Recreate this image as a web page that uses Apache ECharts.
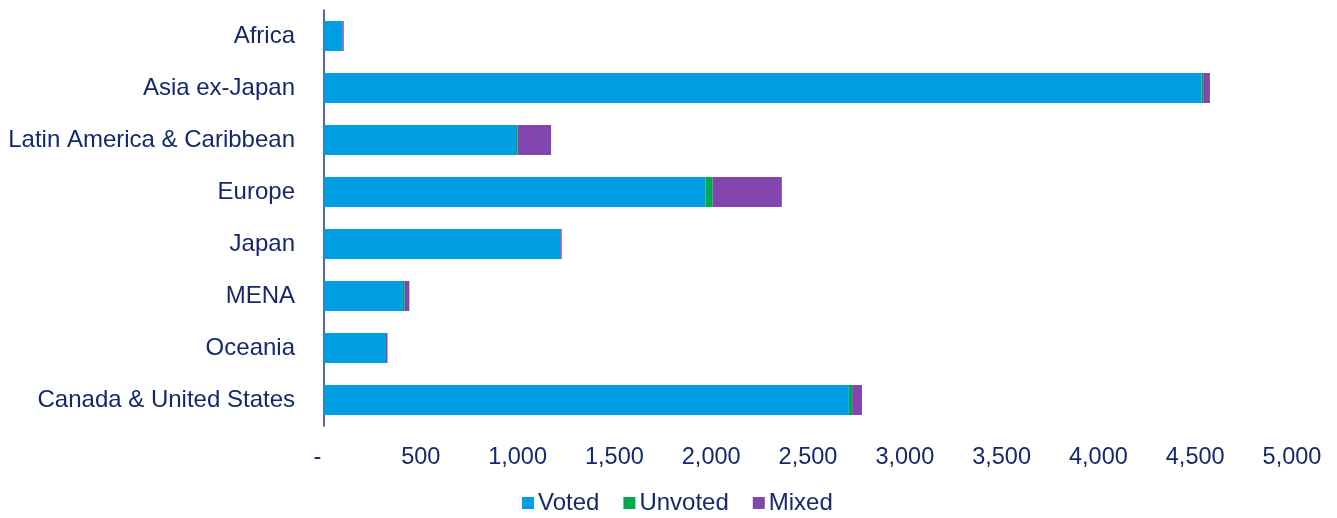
<!DOCTYPE html>
<html>
<head>
<meta charset="utf-8">
<script src="https://cdn.jsdelivr.net/npm/echarts@6/dist/echarts.min.js"></script>
<style>
  html, body { margin: 0; padding: 0; background: #ffffff; }
  #chart { width: 1337px; height: 518px; }
</style>
</head>
<body>
<div id="chart"></div>
<script>
// Regions, listed top to bottom
const regions = ['Africa', 'Asia ex-Japan', 'Latin America & Caribbean', 'Europe', 'Japan', 'MENA', 'Oceania', 'Canada & United States'];
const voted   = [95, 4532, 992, 1971, 1220, 408, 320, 2711];
const unvoted = [0, 9, 8, 36, 0, 9, 0, 17];
const mixed   = [7, 35, 173, 358, 8, 24, 8, 51];
const seriesNames = ['Voted', 'Unvoted', 'Mixed'];

const navy = '#14296b';
const font = '"Liberation Sans", Arial, sans-serif';

const chart = echarts.init(document.getElementById('chart'), null, { renderer: 'canvas' });

function bar(name, data, color) {
  return {
    name: name,
    type: 'bar',
    stack: 'total',
    data: data,
    barWidth: 30,
    itemStyle: { color: color },
    emphasis: { disabled: true },
    animation: false
  };
}

chart.setOption({
  animation: false,
  textStyle: { fontFamily: font },
  grid: { left: 324, right: 45, top: 10, bottom: 92, containLabel: false },
  legend: {
    data: seriesNames,
    left: 517,
    top: 486,
    icon: 'rect',
    itemWidth: 12,
    itemHeight: 12,
    itemGap: 24,
    textStyle: { color: navy, fontSize: 24, fontFamily: font, padding: [0, 0, 0, -1] }
  },
  xAxis: {
    type: 'value',
    min: 0,
    max: 5000,
    interval: 500,
    axisLine: { show: false },
    axisTick: { show: false },
    splitLine: { show: false },
    axisLabel: {
      color: navy,
      fontSize: 23.5,
      fontFamily: font,
      margin: 20,
      formatter: function (v) {
        return v === 0 ? '-  ' : v.toLocaleString('en-US');
      }
    }
  },
  yAxis: {
    type: 'category',
    inverse: true,
    data: regions,
    axisLine: { show: true, lineStyle: { color: '#1a3585', width: 1.5 } },
    axisTick: { show: false },
    splitLine: { show: false },
    axisLabel: { color: navy, fontSize: 24, fontFamily: font, margin: 29, padding: [3, 0, 0, 0] }
  },
  series: [
    bar(seriesNames[0], voted, '#009fe3'),
    bar(seriesNames[1], unvoted, '#00a94f'),
    bar(seriesNames[2], mixed, '#8246af')
  ]
});
</script>
</body>
</html>
